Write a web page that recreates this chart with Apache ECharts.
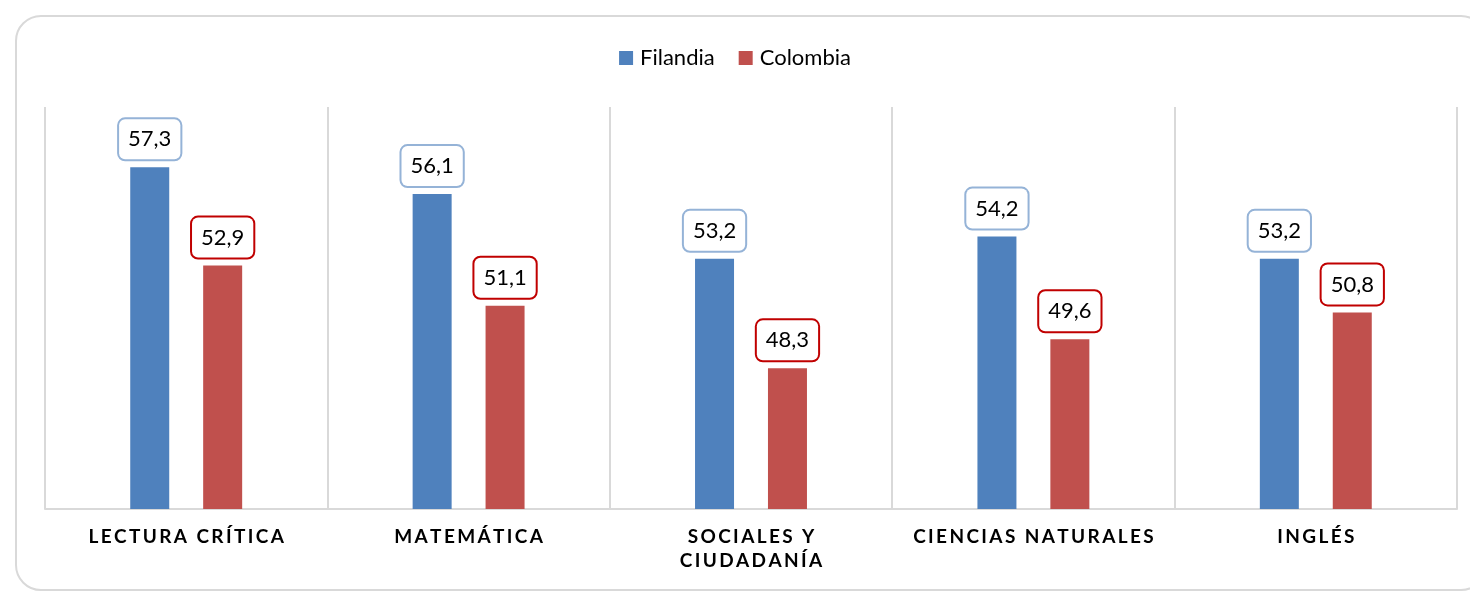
<!DOCTYPE html>
<html>
<head>
<meta charset="utf-8">
<script src="https://cdn.jsdelivr.net/npm/echarts@6/dist/echarts.min.js"></script>
<style>
  html, body { margin:0; padding:0; background:#fff; }
  #chart { width:1470px; height:592px; }
</style>
</head>
<body>
<div id="chart"></div>
<script>
const categories = ['LECTURA CRÍTICA', 'MATEMÁTICA', 'SOCIALES Y CIUDADANÍA', 'CIENCIAS NATURALES', 'INGLÉS']
const seriesNames = ['Filandia', 'Colombia']
const filandia = [57.3, 56.1, 53.2, 54.2, 53.2]
const colombia = [52.9, 51.1, 48.3, 49.6, 50.8]

const font = 'Lato, "Open Sans", sans-serif'

// spread letters apart and wrap long names onto two lines
const spaced = (s) => {
  const words = s.split(' ')
  const lines = []
  let cur = ''
  words.forEach(w => {
    const next = cur ? cur + ' ' + w : w
    if (next.length > 20 && cur) { lines.push(cur); cur = w } else cur = next
  })
  lines.push(cur)
  return lines.map(l => l.split('').join('\u2009')).join('\n')
}

const makeLabel = (border) => ({
  show: true,
  position: 'top',
  distance: 8,
  formatter: p => String(p.value).replace('.', ','),
  color: '#000',
  fontFamily: font,
  fontSize: 22,
  lineHeight: 24,
  backgroundColor: '#fff',
  borderColor: border,
  borderWidth: 2,
  borderRadius: 6,
  padding: [8, 9, 8, 9]
})

const chart = echarts.init(document.getElementById('chart'))
chart.setOption({
  animation: false,
  graphic: [{
    type: 'rect',
    shape: { x: 16, y: 16, width: 1470, height: 574, r: 25 },
    style: { fill: 'none', stroke: '#d9d9d9', lineWidth: 2 },
    silent: true
  }],
  legend: {
    data: seriesNames,
    top: 42,
    left: 'center',
    icon: 'rect',
    itemWidth: 14,
    itemHeight: 14,
    itemGap: 24,
    textStyle: { fontFamily: font, fontSize: 22, color: '#000', padding: [0, 0, 0, 2] }
  },
  grid: { left: 45, right: 13, top: 107, bottom: 83 },
  xAxis: {
    type: 'category',
    data: categories,
    axisTick: { show: false },
    axisLine: { lineStyle: { color: '#d9d9d9', width: 2 } },
    splitLine: { show: true, lineStyle: { color: '#d9d9d9', width: 2 } },
    axisLabel: {
      interval: 0,
      margin: 16,
      formatter: spaced,
      fontFamily: font,
      fontSize: 19,
      fontWeight: 'bold',
      lineHeight: 24,
      color: '#000'
    }
  },
  yAxis: { type: 'value', min: 42, max: 60, show: false },
  series: [
    {
      name: seriesNames[0], type: 'bar', data: filandia,
      barWidth: 39, barGap: '87%',
      itemStyle: { color: '#4f81bd' },
      label: makeLabel('#95b3d7')
    },
    {
      name: seriesNames[1], type: 'bar', data: colombia,
      barWidth: 39,
      itemStyle: { color: '#c0504d' },
      label: makeLabel('#c00000')
    }
  ]
})
</script>
</body>
</html>
